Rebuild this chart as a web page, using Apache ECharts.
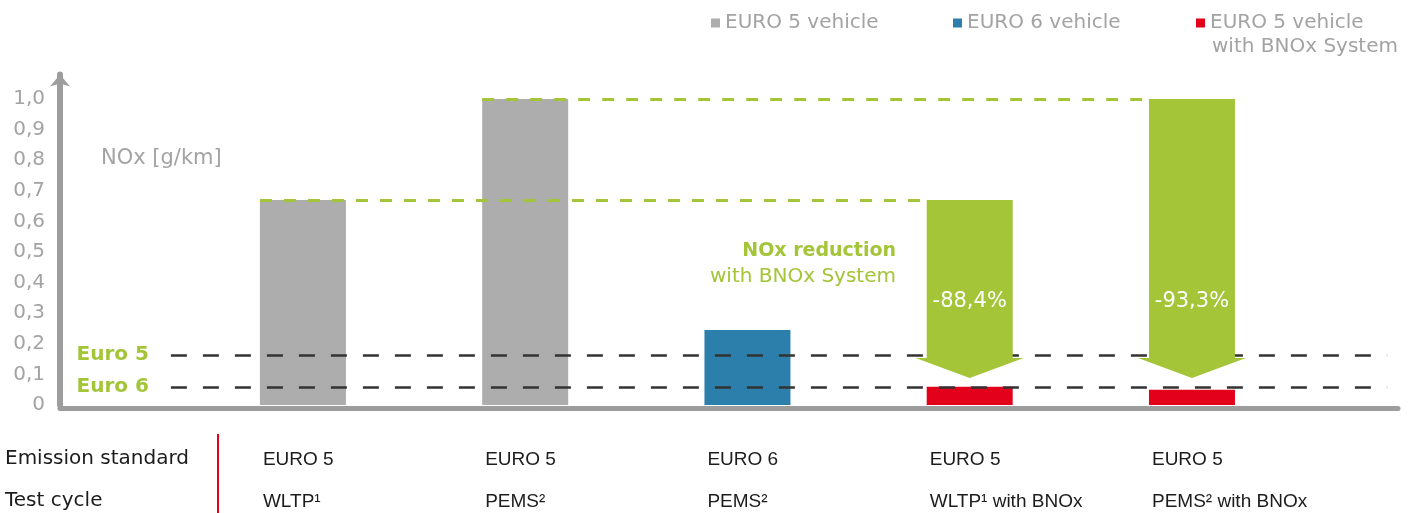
<!DOCTYPE html>
<html>
<head>
<meta charset="utf-8">
<script src="https://cdn.jsdelivr.net/npm/echarts@6/dist/echarts.min.js"></script>
<style>
  html, body { margin: 0; padding: 0; background: #fff; }
  #main { width: 1413px; height: 513px; }
</style>
</head>
<body>
<div id="main"></div>
<script>
var chartDom = document.getElementById('main');
var myChart = echarts.init(chartDom);

// data
var emissionStd = ['EURO 5', 'EURO 5', 'EURO 6', 'EURO 5', 'EURO 5'];
var testCycle = ['WLTP¹', 'PEMS²', 'PEMS²', 'WLTP¹ with BNOx', 'PEMS² with BNOx'];
var euro5Vehicle = [0.67, 1.0, null, null, null];
var euro6Vehicle = [null, null, 0.245, null, null];
var bnoxVehicle = [null, null, null, 0.06, 0.05];
var reductionFrom = [null, null, null, 0.67, 1.0];
var reductionLabel = ['', '', '', '-88,4%', '-93,3%'];
var limitNames = ['Euro 5', 'Euro 6'];
var limitValues = [0.163, 0.059];
var seriesNames = ['EURO 5 vehicle', 'EURO 6 vehicle', 'EURO 5 vehicle with BNOx System'];

// look
var FONT = 'DejaVu Sans';
var GRAY = '#adadad', BLUE = '#2c7fab', RED = '#e2001a', GREEN = '#a3c537';
var AXIS = '#9d9d9d', LABEL = '#a3a3a3', DARK = '#1c1c1c';
var GRID_LEFT = 60, GRID_RIGHT = 15;
var X_MIN = -1.093, X_MAX = 4.927;
var BAR_W = 86;
var unitPx = (1413 - GRID_LEFT - GRID_RIGHT) / (X_MAX - X_MIN);
var halfBar = BAR_W / 2 / unitPx;
var LIMIT_START = -0.594, LIMIT_END = 4.878;

function toPairs(arr) {
  var out = [];
  arr.forEach(function (v, i) { if (v != null) out.push([i, v]); });
  return out;
}

var barCommon = {
  type: 'bar',
  barWidth: BAR_W,
  barGap: '-100%',
  z: 2
};

function legendAt(left, name) {
  return {
    left: left, top: 13, data: [name],
    icon: 'rect', itemWidth: 9, itemHeight: 9, itemGap: 0, padding: 0,
    selectedMode: false,
    formatter: function (n) { return n.replace(' with BNOx System', ''); },
    textStyle: { color: LABEL, fontSize: 20, fontFamily: FONT }
  };
}

var option = {
  animation: false,
  textStyle: { fontFamily: FONT },
  grid: { left: GRID_LEFT, right: GRID_RIGHT, top: 74.5, bottom: 108 },
  legend: [
    legendAt(711, seriesNames[0]),
    legendAt(953, seriesNames[1]),
    legendAt(1196, seriesNames[2])
  ],
  xAxis: {
    type: 'value',
    min: X_MIN,
    max: X_MAX,
    offset: 3,
    axisLine: { show: true, onZero: false, lineStyle: { color: AXIS, width: 5 } },
    axisTick: { show: false },
    axisLabel: { show: false },
    splitLine: { show: false }
  },
  yAxis: {
    type: 'value',
    min: 0,
    max: 1.08,
    interval: 0.1,
    axisLine: {
      show: true,
      onZero: false,
      symbol: ['none', 'arrow'],
      symbolSize: [15, 12],
      lineStyle: { color: AXIS, width: 6 }
    },
    axisTick: { show: false },
    splitLine: { show: false },
    axisLabel: {
      color: LABEL,
      fontSize: 20,
      fontFamily: FONT,
      margin: 15,
      formatter: function (v) {
        if (v > 1.001) return '';
        if (v === 0) return '0';
        return v.toFixed(1).replace('.', ',');
      }
    }
  },
  series: [
    Object.assign({}, barCommon, { name: seriesNames[0], itemStyle: { color: GRAY }, data: toPairs(euro5Vehicle) }),
    Object.assign({}, barCommon, { name: seriesNames[1], itemStyle: { color: BLUE }, data: toPairs(euro6Vehicle) }),
    Object.assign({}, barCommon, { name: seriesNames[2], itemStyle: { color: RED }, data: toPairs(bnoxVehicle) }),
    {
      // green reference lines from the original level to the arrow
      type: 'line',
      data: [],
      z: 3,
      markLine: {
        silent: true,
        symbol: ['none', 'none'],
        label: { show: false },
        lineStyle: { color: GREEN, width: 3, type: [12, 12] },
        data: toPairs(reductionFrom).map(function (p) {
          var src = euro5Vehicle.indexOf(p[1]);
          return [{ coord: [src - halfBar, p[1]] }, { coord: [p[0] - halfBar, p[1]] }];
        })
      }
    },
    {
      // Euro 5 / Euro 6 limit lines
      type: 'line',
      data: [],
      z: 4,
      markLine: {
        silent: true,
        symbol: ['none', 'none'],
        lineStyle: { color: '#333', width: 2.5, type: [16, 16] },
        label: {
          show: true,
          position: 'start',
          distance: 22,
          color: GREEN,
          fontSize: 20,
          fontWeight: 'bold',
          fontFamily: FONT,
          formatter: function (p) { return p.name; }
        },
        data: limitValues.map(function (v, i) {
          return [{ name: limitNames[i], coord: [LIMIT_START, v] }, { coord: [LIMIT_END, v] }];
        })
      }
    },
    {
      // reduction arrows
      type: 'custom',
      z: 5,
      data: toPairs(reductionFrom),
      renderItem: function (params, api) {
        var idx = api.value(0);
        var top = api.coord([idx, api.value(1)]);
        var cx = top[0];
        var tipY = api.coord([idx, limitValues[1]])[1] - 9;
        var headY = tipY - 20;
        var hs = BAR_W / 2, hh = 54;
        return {
          type: 'group',
          children: [{
            type: 'polygon',
            shape: {
              points: [
                [cx - hs, top[1]], [cx + hs, top[1]], [cx + hs, headY],
                [cx + hh, headY], [cx, tipY], [cx - hh, headY], [cx - hs, headY]
              ]
            },
            style: { fill: GREEN }
          }, {
            type: 'text',
            style: {
              text: reductionLabel[idx],
              x: cx, y: headY - 56,
              fill: '#fff',
              fontSize: 21,
              fontFamily: FONT,
              align: 'center',
              verticalAlign: 'middle'
            }
          }]
        };
      }
    }
  ],
  graphic: [
    { type: 'text', left: 1212, top: 37, style: { text: 'with BNOx System', fill: LABEL, fontSize: 20, fontFamily: FONT } },
    { type: 'text', left: 101, top: 148, style: { text: 'NOx [g/km]', fill: LABEL, fontSize: 21, fontFamily: FONT } },
    { type: 'text', right: 1413 - 896, top: 242, style: { text: 'NOx reduction', fill: GREEN, fontSize: 19, fontWeight: 'bold', fontFamily: FONT } },
    { type: 'text', right: 1413 - 896, top: 267, style: { text: 'with BNOx System', fill: GREEN, fontSize: 20, fontFamily: FONT } },
    { type: 'text', left: 5, top: 449, style: { text: 'Emission standard', fill: DARK, fontSize: 20, fontFamily: FONT } },
    { type: 'text', left: 5, top: 491, style: { text: 'Test cycle', fill: DARK, fontSize: 20, fontFamily: FONT } },
    { type: 'rect', left: 217, top: 434, shape: { width: 2, height: 79 }, style: { fill: RED } }
  ]
};

myChart.setOption(option);

// table columns follow the bar positions
var cells = [];
emissionStd.forEach(function (txt, i) {
  var x = myChart.convertToPixel({ xAxisIndex: 0 }, i) - BAR_W / 2 + 3;
  cells.push({ type: 'text', x: x, y: 460, style: { text: txt, fill: DARK, fontSize: 19, fontFamily: 'Liberation Sans', verticalAlign: 'middle' } });
  cells.push({ type: 'text', x: x, y: 502, style: { text: testCycle[i], fill: DARK, fontSize: 19, fontFamily: 'Liberation Sans', verticalAlign: 'middle' } });
});
myChart.setOption({ graphic: option.graphic.concat(cells) });
</script>
</body>
</html>
